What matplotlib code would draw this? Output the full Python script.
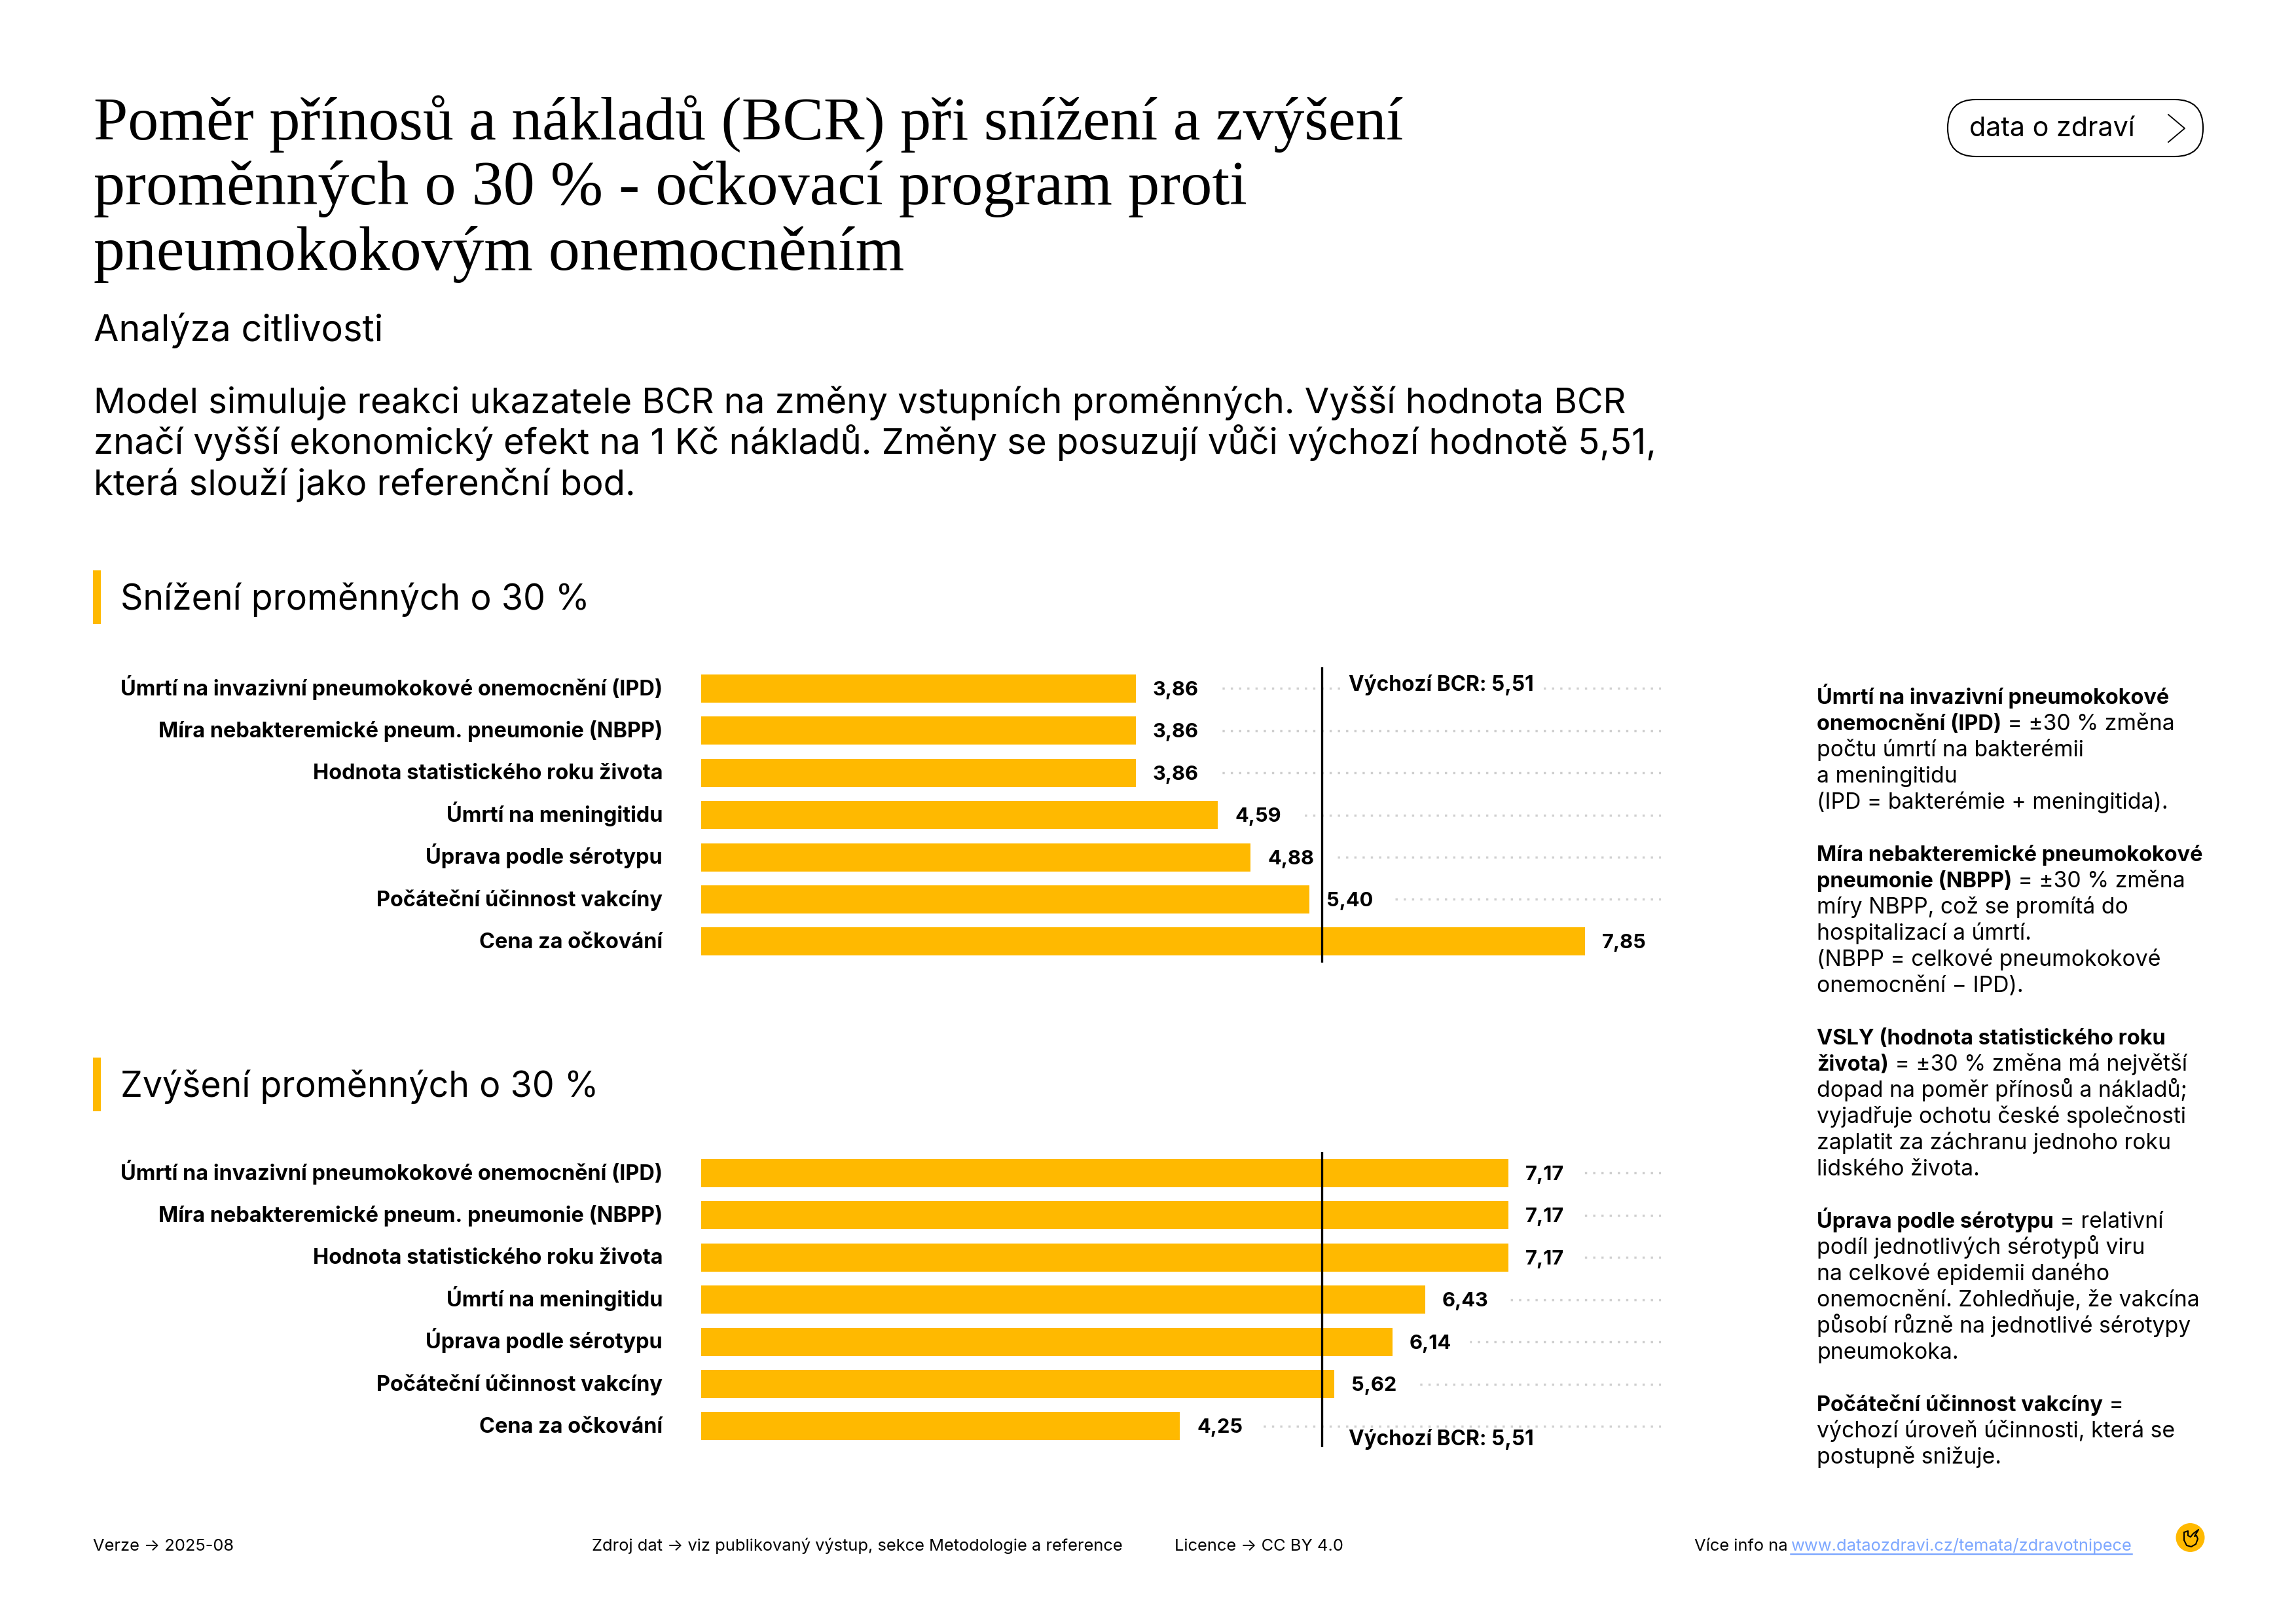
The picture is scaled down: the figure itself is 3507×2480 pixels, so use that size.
# -*- coding: utf-8 -*-
import matplotlib
matplotlib.use('Agg')
import matplotlib.pyplot as plt
from matplotlib.patches import FancyBboxPatch, Rectangle, Circle

# data
labels = ['Úmrtí na invazivní pneumokokové onemocnění (IPD)',
          'Míra nebakteremické pneum. pneumonie (NBPP)',
          'Hodnota statistického roku života',
          'Úmrtí na meningitidu',
          'Úprava podle sérotypu',
          'Počáteční účinnost vakcíny',
          'Cena za očkování']
snizeni = [3.86, 3.86, 3.86, 4.59, 4.88, 5.40, 7.85]
zvyseni = [7.17, 7.17, 7.17, 6.43, 6.14, 5.62, 4.25]
baseline = 5.51

title_lines = ['Poměr přínosů a nákladů (BCR) při snížení a zvýšení',
               'proměnných o 30 % - očkovací program proti',
               'pneumokokovým onemocněním']
intro_lines = ['Model simuluje reakci ukazatele BCR na změny vstupních proměnných. Vyšší hodnota BCR',
               'značí vyšší ekonomický efekt na 1 Kč nákladů. Změny se posuzují vůči výchozí hodnotě 5,51,',
               'která slouží jako referenční bod.']
# (tucne, normalne)
notes = [('Úmrtí na invazivní pneumokokové', ''),
         ('onemocnění (IPD)', ' = ±30 % změna'),
         ('', 'počtu úmrtí na bakterémii'),
         ('', 'a meningitidu'),
         ('', '(IPD = bakterémie + meningitida).'),
         ('', ''),
         ('Míra nebakteremické pneumokokové', ''),
         ('pneumonie (NBPP)', ' = ±30 % změna'),
         ('', 'míry NBPP, což se promítá do'),
         ('', 'hospitalizací a úmrtí.'),
         ('', '(NBPP = celkové pneumokokové'),
         ('', 'onemocnění − IPD).'),
         ('', ''),
         ('VSLY (hodnota statistického roku', ''),
         ('života)', ' = ±30 % změna má největší'),
         ('', 'dopad na poměr přínosů a nákladů;'),
         ('', 'vyjadřuje ochotu české společnosti'),
         ('', 'zaplatit za záchranu jednoho roku'),
         ('', 'lidského života.'),
         ('', ''),
         ('Úprava podle sérotypu', ' = relativní'),
         ('', 'podíl jednotlivých sérotypů viru'),
         ('', 'na celkové epidemii daného'),
         ('', 'onemocnění. Zohledňuje, že vakcína'),
         ('', 'působí různě na jednotlivé sérotypy'),
         ('', 'pneumokoka.'),
         ('', ''),
         ('Počáteční účinnost vakcíny', ' ='),
         ('', 'výchozí úroveň účinnosti, která se'),
         ('', 'postupně snižuje.')]

W, H = 3507, 2480
YELLOW = '#FFB900'
SANS = ['Inter', 'DejaVu Sans']
SERIF = ['Liberation Serif', 'DejaVu Serif']
PX = 0.24  # 1 px v bodech pri 300 dpi

fig = plt.figure(figsize=(W / 300, H / 300), dpi=300, facecolor='white')
bg = fig.add_axes([0, 0, 1, 1])
bg.set_xlim(0, W)
bg.set_ylim(H, 0)
bg.axis('off')
renderer = fig.canvas.get_renderer()


def txt(x, y, s, size, weight='normal', family=SANS, color='black', ha='left'):
    return bg.text(x, y, s, fontsize=size, fontweight=weight, family=family,
                   color=color, ha=ha, va='baseline')


# hlavicka
for i, (line, size) in enumerate(zip(title_lines, [22.5, 23.1, 23.0])):
    txt(143, 213 + i * 99.5, line, size, family=SERIF)
txt(143, 521, 'Analýza citlivosti', 13.4)
for i, line in enumerate(intro_lines):
    txt(143, 631 + i * 62.5, line, 13.06)

# tlacitko vpravo nahore
bg.add_patch(FancyBboxPatch((2975 + 43, 152 + 43), 390 - 86, 87 - 86,
                            boxstyle='round,pad=43', fc='white', ec='black', lw=0.5))
txt(3008, 208, 'data o zdraví', 9.9)
bg.plot([3312, 3337, 3312], [175, 196, 217], color='black', lw=0.45)

# sekce
for y0, name in [(871, 'Snížení proměnných o 30 %'), (1615, 'Zvýšení proměnných o 30 %')]:
    bg.add_patch(Rectangle((142, y0), 12, 82, fc=YELLOW, ec='none'))
    txt(184, y0 + 60, name, 12.9)


def bar_chart(values, top, label_above):
    pitch = 64.4
    ax = fig.add_axes([1071 / W, 1 - (top + 7 * pitch) / H, (2537 - 1071) / W, 7 * pitch / H])
    ax.set_xlim(0, (2537 - 1071) / 172)
    ax.set_ylim(6.5, -0.5)
    ax.axis('off')
    ypos = list(range(len(values)))
    ax.barh(ypos, values, height=0.665, color=YELLOW, zorder=3)
    ax.axvline(baseline, color='black', lw=0.8, zorder=5)
    xmax = ax.get_xlim()[1]
    for y, v, lab in zip(ypos, values, labels):
        ax.annotate(lab, (0, y), xytext=(-59 * PX, -10 * PX), textcoords='offset points',
                    ha='right', va='baseline', fontsize=7.8, fontweight='bold', family=SANS)
        t = ax.annotate(f'{v:.2f}'.replace('.', ','), (v, y), xytext=(26 * PX, -10.5 * PX),
                        textcoords='offset points', ha='left', va='baseline',
                        fontsize=7.4, fontweight='bold', family=SANS, zorder=4)
        right = t.get_window_extent(renderer).x1
        start = ax.transData.inverted().transform((right + 28, 0))[0]
        # kreslit zprava, at tecky lici na pravem konci
        ax.plot([xmax, start], [y, y], color='#cfcfcf', lw=3.4 * PX,
                ls=(0, (1, 2.7)), dash_capstyle='butt', zorder=1)
    dy = 3.5 if label_above else 29
    box = dict(fc='white', ec='none', pad=2.4) if label_above else None
    row = 0 if label_above else 6
    ax.annotate('Výchozí BCR: 5,51', (baseline, row), xytext=(41 * PX, -dy * PX),
                textcoords='offset points', ha='left', va='baseline', fontsize=7.6,
                fontweight='bold', family=SANS, bbox=box, zorder=2)
    return ax


bar_chart(snizeni, 1019.3, True)
bar_chart(zvyseni, 1759.3, False)

# poznamky vpravo
for i, (b, r) in enumerate(notes):
    y = 1075 + i * 40
    x = 2775
    if b:
        t = txt(x, y, b, 7.8, weight='bold')
        x = bg.transData.inverted().transform((t.get_window_extent(renderer).x1, 0))[0]
    if r:
        txt(x, y, r, 8.1)

# paticka
FOOT = 6.12
txt(142, 2368, 'Verze → 2025-08', FOOT)
txt(904, 2368, 'Zdroj dat → viz publikovaný výstup, sekce Metodologie a reference', FOOT)
txt(1794, 2368, 'Licence → CC BY 4.0', FOOT)
txt(2588, 2368, 'Více info na', FOOT)
t = txt(2735, 2368, 'www.dataozdravi.cz/temata/zdravotnipece', FOOT, color='#7DA7FF')
t.set_url('https://www.dataozdravi.cz/temata/zdravotnipece')
x1 = bg.transData.inverted().transform((t.get_window_extent(renderer).x1, 0))[0]
bg.plot([2735, x1], [2373, 2373], color='#7DA7FF', lw=0.6)

# logo
bg.add_patch(Circle((3345.5, 2348), 22, fc=YELLOW, ec='none'))
bg.plot([3336, 3336, 3340, 3347, 3354, 3357, 3355, 3352, 3358, 3350, 3346, 3342, 3342, 3336],
        [2340, 2352, 2360, 2362, 2358, 2350, 2345, 2346, 2336, 2342, 2347, 2345, 2338, 2340],
        color='black', lw=0.5)

fig.savefig('out.png', dpi=300)
